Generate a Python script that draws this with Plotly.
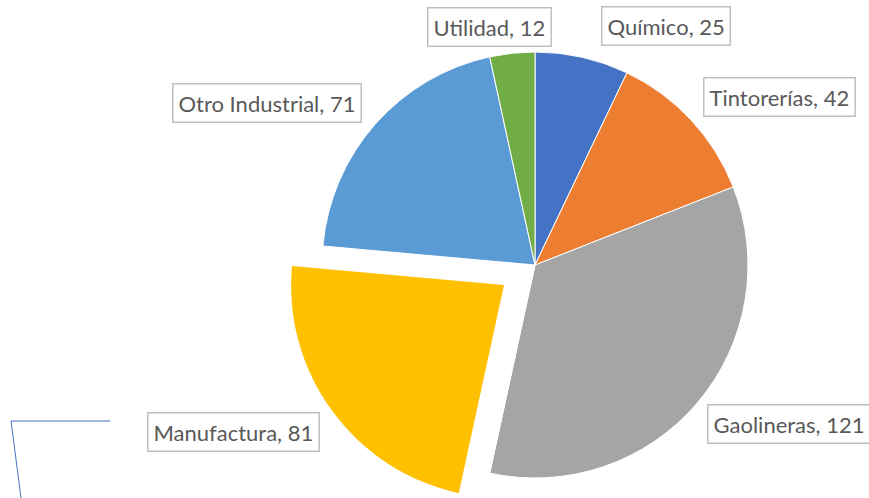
import plotly.graph_objects as go

# Data
labels = ["Químico", "Tintorerías", "Gaolineras", "Manufactura", "Otro Industrial", "Utilidad"]
values = [25, 42, 121, 81, 71, 12]
colors = ["#4472C4", "#ED7D31", "#A5A5A5", "#FFC000", "#5B9BD5", "#70AD47"]
exploded = "Manufactura"

W, H = 869, 498
CLEAR = "rgba(0,0,0,0)"


def px_x(x):
    return x / W


def px_y(y):
    return 1 - y / H


# Base pie: every slice except the exploded one
base_colors = [CLEAR if lab == exploded else c for lab, c in zip(labels, colors)]
# Exploded slice drawn as its own pie, shifted away from the centre
pulled_colors = [c if lab == exploded else CLEAR for lab, c in zip(labels, colors)]

fig = go.Figure()
fig.add_trace(go.Pie(
    labels=labels, values=values, sort=False, direction="clockwise", rotation=0,
    marker=dict(colors=base_colors, line=dict(color="white", width=1)),
    textinfo="none", hoverinfo="label+value", showlegend=False,
    domain=dict(x=[px_x(322), px_x(748)], y=[px_y(478), px_y(52)]),
))
fig.add_trace(go.Pie(
    labels=labels, values=values, sort=False, direction="clockwise", rotation=0,
    marker=dict(colors=pulled_colors, line=dict(color=CLEAR, width=0)),
    textinfo="none", hoverinfo="skip", showlegend=False,
    domain=dict(x=[px_x(291), px_x(717)], y=[0, px_y(72)]),
))

# Data labels in boxes: (x, centre y, anchor)
label_pos = {
    "Utilidad": (489, 27, "center"),
    "Químico": (666, 26, "center"),
    "Tintorerías": (779, 97, "center"),
    "Otro Industrial": (267, 103, "center"),
    "Gaolineras": (707, 424, "left"),
    "Manufactura": (234, 432, "center"),
}
annotations = []
for lab, val in zip(labels, values):
    x, y, anchor = label_pos[lab]
    annotations.append(dict(
        text=f"{lab}, {val}", x=px_x(x), y=px_y(y), xref="paper", yref="paper",
        xanchor=anchor, yanchor="middle", showarrow=False,
        font=dict(family="Lato", size=22, color="#595959"),
        bgcolor="white", bordercolor="#BFBFBF", borderwidth=1.5, borderpad=5,
    ))

# Stray leader line at the lower left
path = (f"M {px_x(110)},{px_y(421)} L {px_x(11)},{px_y(421)} "
        f"L {px_x(21)},{px_y(498)}")

fig.update_layout(
    width=W, height=H, margin=dict(l=0, r=0, t=0, b=0),
    paper_bgcolor="white", plot_bgcolor="white",
    annotations=annotations,
    shapes=[dict(type="path", path=path, xref="paper", yref="paper",
                 line=dict(color="#4472C4", width=1))],
)

fig.write_html("out.html")
